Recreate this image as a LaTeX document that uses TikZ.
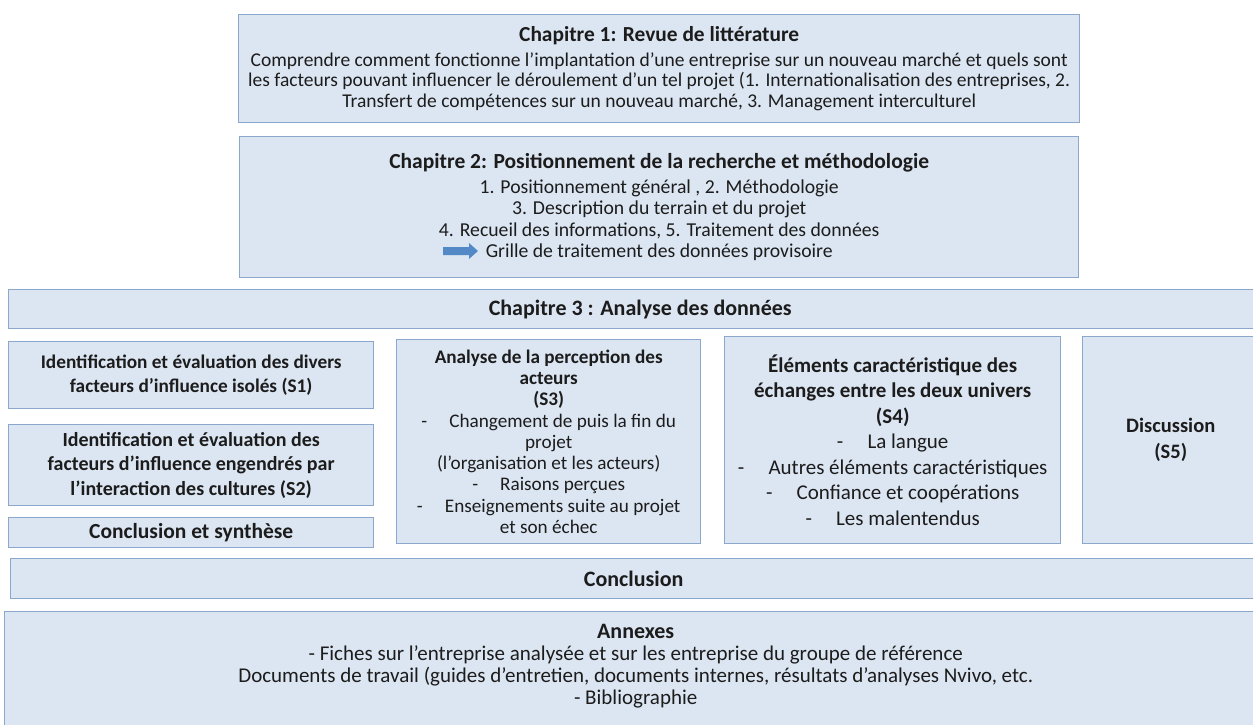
\documentclass[tikz,border=0pt]{standalone}
\usepackage{fontspec}
\setmainfont{Carlito}
\definecolor{boxfill}{RGB}{220,230,242}
\definecolor{boxline}{RGB}{140,167,205}
\definecolor{arrowblue}{RGB}{84,137,200}
\definecolor{txt}{RGB}{28,28,28}
\newcommand{\itemdash}{-\hspace{1.15em}}
\begin{document}
\begin{tikzpicture}[x=1pt,y=-1pt,
  box/.style={draw=boxline,fill=boxfill,line width=1.4pt,anchor=north west,inner sep=2pt,align=center,text=txt,font=\fontsize{19.5}{20.5}\selectfont},
  boldbox/.style={box,font=\bfseries\fontsize{22}{24}\selectfont}]
\useasboundingbox (0,0) rectangle (1253,725);
\clip (0,0) rectangle (1253,725);
\node[box,minimum width=841,minimum height=108] (ch1) at (238,14)
  {{\bfseries\fontsize{21.4}{22}\selectfont Chapitre 1: Revue de littérature}\\[4pt]
   Comprendre comment fonctionne l’implantation d’une entreprise sur un nouveau marché et quels sont\\
   les facteurs pouvant influencer le déroulement d’un tel projet (1. Internationalisation des entreprises, 2.\\
   Transfert de compétences sur un nouveau marché, 3. Management interculturel};
\node[box,minimum width=839,minimum height=141,font=\fontsize{19.7}{21.5}\selectfont] (ch2) at (239,136)
  {{\bfseries\fontsize{21.5}{22}\selectfont Chapitre 2: Positionnement de la recherche et méthodologie}\\[3pt]
   1. Positionnement général , 2. Méthodologie\\
   3. Description du terrain et du projet\\
   4. Recueil des informations, 5. Traitement des données\\
   Grille de traitement des données provisoire};
\fill[arrowblue] (443,247) -- (469,247) -- (469,243) -- (478,251) -- (469,259) -- (469,255) -- (443,255) -- cycle;
\node[boldbox,minimum width=1263,minimum height=39] (ch3) at (8,289)
  {Chapitre 3 : Analyse des données};
\node[boldbox,minimum width=365,minimum height=67,font=\bfseries\fontsize{19.3}{24}\selectfont] (s1) at (8,341)
  {Identification et évaluation des divers\\facteurs d’influence isolés (S1)};
\node[boldbox,minimum width=365,minimum height=81,font=\bfseries\fontsize{20}{24.5}\selectfont] (s2) at (8,424)
  {Identification et évaluation des\\facteurs d’influence engendrés par\\l’interaction des cultures (S2)};
\node[boldbox,minimum width=365,minimum height=30,font=\bfseries\fontsize{21.5}{22}\selectfont] (synth) at (8,517)
  {Conclusion et synthèse};
\node[box,minimum width=304,minimum height=204,font=\fontsize{19.2}{21.3}\selectfont] (s3) at (396,339)
  {\textbf{Analyse de la perception des}\\\textbf{acteurs}\\\textbf{(S3)}\\
   \itemdash Changement de puis la fin du\\projet\\
   (l’organisation et les acteurs)\\
   \itemdash Raisons perçues\\
   \itemdash Enseignements suite au projet\\et son échec};
\node[box,minimum width=336,minimum height=207,font=\fontsize{21}{25.5}\selectfont] (s4) at (724,336)
  {\textbf{Éléments caractéristique des}\\\textbf{échanges entre les deux univers}\\\textbf{(S4)}\\
   \itemdash La langue\\
   \itemdash Autres éléments caractéristiques\\
   \itemdash Confiance et coopérations\\
   \itemdash Les malentendus};
\node[boldbox,minimum width=176,minimum height=207,font=\bfseries\fontsize{20.5}{26}\selectfont] (s5) at (1082,336)
  {Discussion\\(S5)};
\node[boldbox,minimum width=1246,minimum height=40] (concl) at (10,558)
  {Conclusion};
\node[box,minimum width=1262,minimum height=125] (annex) at (4,611) {};
\node[box,draw=none,fill=none,anchor=north,font=\fontsize{21}{22}\selectfont] (annexlist) at ([yshift=-11pt]annex.north)
  {{\bfseries\fontsize{22}{22}\selectfont Annexes}\\
   - Fiches sur l’entreprise analysée et sur les entreprise du groupe de référence\\
   Documents de travail (guides d’entretien, documents internes, résultats d’analyses Nvivo, etc.\\
   - Bibliographie};
\end{tikzpicture}
\end{document}
